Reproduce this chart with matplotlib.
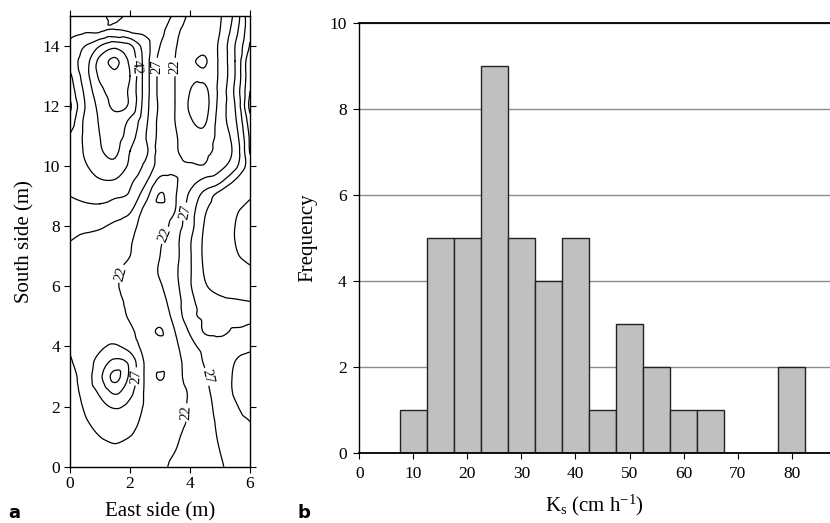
import numpy as np
import matplotlib
matplotlib.use('Agg')
import matplotlib.pyplot as plt
import matplotlib.tri as mtri

plt.rcParams['font.family'] = 'Liberation Serif'
plt.rcParams['mathtext.fontset'] = 'custom'
plt.rcParams['mathtext.rm'] = 'Liberation Serif'
plt.rcParams['mathtext.it'] = 'Liberation Serif:italic'

# --- panel a: Ks map (cm/h), rows from south=15 down to 0
east_m = [0, 0.5, 1, 1.5, 2, 2.5, 3, 3.5, 4, 4.5, 5, 5.5, 6]
south_m = [15, 14.5, 14, 13.5, 13, 12.5, 12, 11.5, 11, 10.5, 10, 9.5, 9, 8.5, 8,
           7.5, 7, 6.5, 6, 5.5, 5, 4.5, 4, 3.5, 3, 2.5, 2, 1.5, 1, 0.5, 0]
ks_map = [
    [30, 30.5, 31, 33, 31, 31, 29.5, 26, 21, 19, 21.5, 28.5, 41],
    [31, 31.5, 31.5, 32.5, 31.5, 31, 28.5, 23.5, 19.5, 18.5, 22, 30, 41],
    [33, 37, 42, 45.5, 43, 34.5, 27, 22.5, 19, 18.5, 23, 32, 42.5],
    [34, 39.5, 48.5, 53, 46, 35, 25.5, 22, 18, 16.5, 23, 32, 46],
    [31, 39.5, 48, 50.5, 47, 35, 25.5, 22, 18, 18, 23, 32, 46],
    [29, 38, 45.5, 49, 46, 35, 25.5, 22, 17, 16, 23.5, 33, 47],
    [26, 37, 43.5, 48, 46, 34.5, 26, 22, 16.5, 15.5, 24, 32, 48.5],
    [29, 38, 42.5, 45, 41, 33.5, 25.5, 22, 17.5, 16.5, 24.5, 31, 45],
    [32.5, 38, 42, 44, 39.5, 32.5, 25.5, 22.5, 19, 18.5, 24, 29.5, 43],
    [34, 37.5, 41.5, 43, 37, 33.5, 25, 22.5, 20.5, 21, 23.5, 28.5, 42.5],
    [34.5, 36.5, 39.5, 40.5, 36, 31, 25, 23, 22.5, 22.5, 25.5, 30.5, 40],
    [33.5, 35, 36.5, 36.5, 33, 28, 20.5, 21.5, 25, 28.5, 31, 37.5, 40],
    [32, 33, 33.5, 32.5, 31, 24, 16.5, 21.5, 28, 34, 39.5, 40, 41.5],
    [30, 30.5, 30.5, 29.5, 27.5, 20.5, 18.5, 22, 29.5, 36.5, 40, 41.5, 44],
    [28.5, 28, 27.5, 26, 24, 20, 19.5, 24.5, 30, 37.5, 40.5, 42, 45],
    [27, 26, 25.5, 24.5, 22.5, 19.5, 21.5, 25.5, 31.5, 38, 40.5, 42, 45],
    [25.5, 25, 24.5, 24, 22, 19.5, 22, 25.5, 31.5, 38, 40, 41.5, 43.5],
    [24.5, 24, 23.5, 23, 20.5, 19.5, 22.5, 26, 31.5, 37.5, 39.5, 40.5, 41],
    [24, 23.5, 23, 22.5, 20, 19, 21.5, 25.5, 31.5, 36.5, 38.5, 39.5, 40],
    [23.5, 23.5, 23, 23, 21, 19, 20.5, 24.5, 30.5, 34.5, 36, 36.5, 37],
    [23, 23.5, 23.5, 23.5, 21.5, 19, 19.5, 23.5, 30.5, 33, 34, 34, 34],
    [23, 24, 25, 25.5, 23, 19.5, 16.5, 22, 27.5, 32.5, 33, 31.5, 30.5],
    [22.5, 24, 26, 27.5, 25, 20.5, 19.5, 21, 25.5, 28.5, 30, 31, 31.5],
    [21.5, 24.5, 29, 33, 30.5, 21.5, 19.5, 20.5, 24, 27.5, 30, 32, 33],
    [20.5, 24, 31, 38.5, 31, 21.5, 16.5, 20.5, 23.5, 26.5, 29.5, 32.5, 34],
    [20, 23.5, 28, 33, 28.5, 21.5, 19.5, 20.5, 22.5, 26, 29, 32.5, 34],
    [19.5, 22.5, 25.5, 27.5, 25.5, 21.5, 20, 20.5, 22.5, 25.5, 28.5, 31.5, 33.5],
    [19, 21.5, 23.5, 24.5, 23.5, 21, 20, 21, 22.5, 25, 28, 30.5, 32],
    [18.5, 20, 22, 23, 22, 20.5, 20, 21.5, 23, 25, 27.5, 29.5, 31],
    [18, 19.5, 20.5, 21, 20.5, 20, 20.5, 22, 23.5, 25, 27, 29, 30.5],
    [17.5, 19, 20, 20.5, 20.5, 20.5, 21, 23, 24, 25.5, 26.5, 28.5, 30],
]
contour_levels = [17, 22, 27, 32, 37, 42, 47, 52]
label_spots = [(2.1, 13.3), (2.9, 13.3), (3.5, 13.3), (3.77, 8.5), (3.17, 7.7),
               (1.77, 6.4), (2.2, 3.0), (4.6, 3.0), (3.9, 1.8)]

# --- panel b: histogram of Ks
ks_bins = [10, 15, 20, 25, 30, 35, 40, 45, 50, 55, 60, 65, 70, 75, 80]
frequency = [1, 5, 5, 9, 5, 4, 5, 1, 3, 2, 1, 1, 0, 0, 2]

fig = plt.figure(figsize=(8.3, 5.23), dpi=100)

# panel a
ax1 = fig.add_axes([0.0843, 0.1077, 0.2169, 0.8618])
X, Y = np.meshgrid(east_m, south_m)
Z = np.array(ks_map, dtype=float)
tri = mtri.Triangulation(X.ravel(), Y.ravel())
interp = mtri.CubicTriInterpolator(tri, Z.ravel(), kind='geom')
tri_f, z_f = mtri.UniformTriRefiner(tri).refine_field(Z.ravel(), triinterpolator=interp, subdiv=3)
cs = ax1.tricontour(tri_f, z_f, levels=contour_levels, colors='k', linewidths=0.9)
ax1.clabel(cs, manual=label_spots, fmt='%d', fontsize=10.5, inline=True, inline_spacing=2)
ax1.set_xlim(0, 6)
ax1.set_ylim(0, 15)
ax1.set_xticks([0, 2, 4, 6])
ax1.set_yticks(range(0, 15, 2))
ax1.tick_params(direction='out', length=4, width=0.8, labelsize=12.5, pad=3,
                top=True, right=True, labeltop=False, labelright=False)
for s in ax1.spines.values():
    s.set_linewidth(1.0)
ax1.set_xlabel('East side (m)', fontsize=15, labelpad=7)
ax1.set_ylabel('South side (m)', fontsize=15, labelpad=6)

# panel b
ax2 = fig.add_axes([0.4329, 0.1333, 0.5671, 0.8233])
ax2.set_axisbelow(True)
ax2.yaxis.grid(True, color='#8c8c8c', linewidth=1.0)
ax2.bar(ks_bins, frequency, width=5, color='#c0c0c0', edgecolor='#222222', linewidth=1.0)
ax2.set_xlim(0, 87.1)
ax2.set_ylim(0, 10)
ax2.set_xticks(range(0, 81, 10))
ax2.set_yticks(range(0, 11, 2))
ax2.spines['right'].set_visible(False)
ax2.spines['top'].set_linewidth(1.3)
ax2.spines['left'].set_linewidth(1.0)
ax2.spines['bottom'].set_linewidth(1.3)
ax2.tick_params(direction='out', length=4, width=0.8, labelsize=12.5, pad=5)
ax2.set_ylabel('Frequency', fontsize=15, labelpad=9)
ax2.set_xlabel(r'K$_\mathrm{s}$ (cm h$^{\mathrm{-1}}$)', fontsize=15, labelpad=8)

fig.text(0.010, 0.010, 'a', fontsize=13, fontweight='bold', family='DejaVu Sans')
fig.text(0.358, 0.010, 'b', fontsize=13, fontweight='bold', family='DejaVu Sans')

fig.savefig('out.png', dpi=100)
